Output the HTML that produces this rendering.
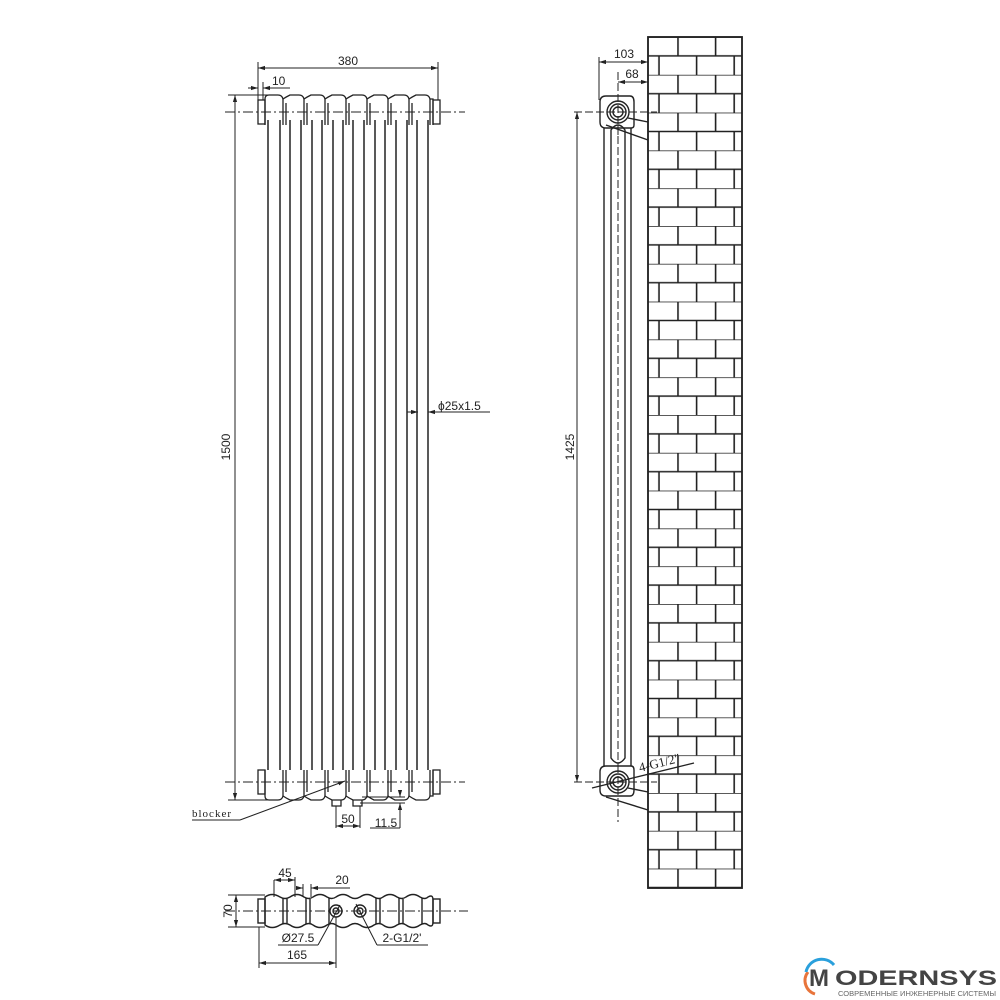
<!DOCTYPE html>
<html><head><meta charset="utf-8"><style>
html,body{margin:0;padding:0;background:#fff;}
svg{display:block;}
text{font-family:"Liberation Sans",sans-serif;fill:#222;}
</style></head><body>
<svg width="1000" height="1000" viewBox="0 0 1000 1000" xmlns="http://www.w3.org/2000/svg">
<defs>
<pattern id="br" x="648" y="37" width="37.6" height="37.8" patternUnits="userSpaceOnUse">
<line x1="0" y1="0" x2="37.6" y2="0" stroke="#222" stroke-width="1.6"/>
<line x1="0" y1="18.9" x2="37.6" y2="18.9" stroke="#222" stroke-width="1.6"/>
<line x1="30" y1="0" x2="30" y2="18.9" stroke="#222" stroke-width="1.6"/>
<line x1="11" y1="18.9" x2="11" y2="37.8" stroke="#222" stroke-width="1.6"/>
</pattern>
<marker id="a" viewBox="0 0 10 10" refX="10" refY="5" markerWidth="7" markerHeight="7" orient="auto-start-reverse"><path d="M0,2L10,5L0,8z" fill="#222"/></marker>
</defs>
<g stroke="#222" fill="none" stroke-width="1.3">
<rect x="648" y="37" width="94" height="851" fill="url(#br)"/>
<rect x="648" y="37" width="94" height="851" stroke-width="1.8"/>

<g stroke-width="1.5">
<line x1="268" y1="120" x2="268" y2="770"/><line x1="280" y1="120" x2="280" y2="770"/>
<line x1="290" y1="120" x2="290" y2="770"/><line x1="301" y1="120" x2="301" y2="770"/>
<line x1="312" y1="120" x2="312" y2="770"/><line x1="322" y1="120" x2="322" y2="770"/>
<line x1="333" y1="120" x2="333" y2="770"/><line x1="343" y1="120" x2="343" y2="770"/>
<line x1="353" y1="120" x2="353" y2="770"/><line x1="364" y1="120" x2="364" y2="770"/>
<line x1="375" y1="120" x2="375" y2="770"/><line x1="385" y1="120" x2="385" y2="770"/>
<line x1="396" y1="120" x2="396" y2="770"/><line x1="407" y1="120" x2="407" y2="770"/>
<line x1="417" y1="120" x2="417" y2="770"/><line x1="428" y1="120" x2="428" y2="770"/>
</g>
<path d="M265,125 L265,99 Q265,95 269,95 L278,95 Q282,95 283,99 Q286,97 290,95 L299,95 Q303,95 304,99 Q307,97 311,95 L320,95 Q324,95 325,99 Q328,97 332,95 L341,95 Q345,95 346,99 Q349,97 353,95 L362,95 Q366,95 367,99 Q370,97 374,95 L383,95 Q387,95 388,99 Q391,97 395,95 L404,95 Q408,95 409,99 Q412,97 416,95 L425,95 Q429,95 430,99 L433,99 L433,125"/>
<rect x="258" y="100" width="7" height="24"/><rect x="433" y="100" width="7" height="24"/>
<path d="M283,99 V125 M286,103 V125 M304,99 V125 M307,103 V125 M325,99 V125 M328,103 V125 M346,99 V125 M349,103 V125 M367,99 V125 M370,103 V125 M388,99 V125 M391,103 V125 M409,99 V125 M412,103 V125 M430,99 V125"/>
<path d="M265,770 L265,796 Q265,800 269,800 L278,800 Q282,800 283,796 Q286,798 290,800 L299,800 Q303,800 304,796 Q307,798 311,800 L320,800 Q324,800 325,796 Q328,798 332,800 L341,800 Q345,800 346,796 Q349,798 353,800 L362,800 Q366,800 367,796 Q370,798 374,800 L383,800 Q387,800 388,796 Q391,798 395,800 L404,800 Q408,800 409,796 Q412,798 416,800 L425,800 Q429,800 430,796 L433,796 L433,770"/>
<rect x="258" y="770" width="7" height="24"/><rect x="433" y="770" width="7" height="24"/>
<path d="M283,770 V796 M286,770 V792 M304,770 V796 M307,770 V792 M325,770 V796 M328,770 V792 M346,770 V796 M349,770 V792 M367,770 V796 M370,770 V792 M388,770 V796 M391,770 V792 M409,770 V796 M412,770 V792 M430,770 V796"/>
<path d="M332,800 V806 H341 V800 M353,800 V806 H362 V800"/>
<g stroke-dasharray="10,3,2,3" stroke-width="1"><line x1="225" y1="112" x2="465" y2="112"/><line x1="225" y1="782" x2="465" y2="782"/></g>
<g stroke-width="1">
<line x1="258" y1="62" x2="258" y2="100"/><line x1="438" y1="62" x2="438" y2="100"/>
<line x1="258" y1="68" x2="438" y2="68" marker-start="url(#a)" marker-end="url(#a)"/>
<line x1="263" y1="82" x2="263" y2="100"/>
<line x1="248" y1="88" x2="258" y2="88" marker-end="url(#a)"/><line x1="275" y1="88" x2="263" y2="88" marker-end="url(#a)"/><line x1="263" y1="88" x2="290" y2="88"/>
<line x1="228" y1="95" x2="268" y2="95"/><line x1="228" y1="800" x2="268" y2="800"/>
<line x1="235" y1="95" x2="235" y2="800" marker-start="url(#a)" marker-end="url(#a)"/>
<line x1="407" y1="412" x2="418" y2="412" marker-end="url(#a)"/><line x1="440" y1="412" x2="428" y2="412" marker-end="url(#a)"/><line x1="428" y1="412" x2="490" y2="412"/>
<line x1="192" y1="820" x2="240" y2="820"/><line x1="240" y1="820" x2="345" y2="781" marker-end="url(#a)"/>
<line x1="336" y1="806" x2="336" y2="828"/><line x1="360" y1="806" x2="360" y2="828"/>
<line x1="336" y1="826" x2="360" y2="826" marker-start="url(#a)" marker-end="url(#a)"/>
<line x1="360" y1="803" x2="405" y2="803"/><line x1="362" y1="797" x2="405" y2="797"/>
<line x1="400" y1="790" x2="400" y2="797" marker-end="url(#a)"/><line x1="400" y1="828" x2="400" y2="803" marker-end="url(#a)"/>
<line x1="370" y1="828" x2="400" y2="828"/>
</g>

<g stroke-width="1.4">
<path d="M265,897 Q272,892 280,897 Q285,900 290,897 Q297,892 304,897 Q309,900 313,897 Q320,892 327,897 Q332,900 336,897 Q343,892 350,897 Q355,900 360,897 Q367,892 374,897 Q379,900 383,897 Q390,892 397,897 Q402,900 406,897 Q413,892 420,897 Q425,900 428,897 Q433,894 433,900 L433,922 Q433,928 428,925 Q425,922 420,925 Q413,930 406,925 Q402,922 397,925 Q390,930 383,925 Q379,922 374,925 Q367,930 360,925 Q355,922 350,925 Q343,930 336,925 Q332,922 327,925 Q320,930 313,925 Q309,922 304,925 Q297,930 290,925 Q285,922 280,925 Q272,930 265,925 Z"/>
<rect x="258" y="899" width="7" height="24"/><rect x="433" y="899" width="7" height="24"/>
<path d="M283,898 V924 M287,899 V923 M306,898 V924 M310,899 V923 M329,898 V924 M376,898 V924 M380,899 V923 M399,898 V924 M403,899 V923 M422,898 V924"/>
<circle cx="336" cy="911" r="6"/><circle cx="336" cy="911" r="3"/>
<circle cx="360" cy="911" r="6"/><circle cx="360" cy="911" r="3"/>
</g>
<line x1="225" y1="911" x2="468" y2="911" stroke-dasharray="10,3,2,3" stroke-width="1"/>
<g stroke-width="1">
<line x1="228" y1="895" x2="265" y2="895"/><line x1="228" y1="927" x2="265" y2="927"/>
<line x1="236" y1="895" x2="236" y2="927" marker-start="url(#a)" marker-end="url(#a)"/>
<line x1="274" y1="880" x2="274" y2="897"/><line x1="295" y1="877" x2="295" y2="897"/>
<line x1="274" y1="880" x2="295" y2="880" marker-start="url(#a)" marker-end="url(#a)"/>
<line x1="303" y1="884" x2="303" y2="897"/><line x1="311" y1="884" x2="311" y2="897"/>
<line x1="296" y1="888" x2="303" y2="888" marker-end="url(#a)"/><line x1="318" y1="888" x2="311" y2="888" marker-end="url(#a)"/><line x1="311" y1="888" x2="350" y2="888"/>
<line x1="259" y1="927" x2="259" y2="968"/><line x1="336" y1="917" x2="336" y2="968"/>
<line x1="259" y1="963" x2="336" y2="963" marker-start="url(#a)" marker-end="url(#a)"/>
<line x1="278" y1="945" x2="318" y2="945"/><line x1="318" y1="945" x2="340" y2="905"/>
<line x1="377" y1="945" x2="428" y2="945"/><line x1="377" y1="945" x2="356" y2="904"/>
</g>

<g stroke-width="1.4">
<path d="M600,102 Q600,96 606,96 L630,96 Q634,96 634,102 L634,125 Q634,128 631,128 L606,128 Q600,128 600,122 Z"/>
<path d="M600,790 Q600,796 606,796 L630,796 Q634,796 634,790 L634,770 Q634,766 631,766 L606,766 Q600,766 600,772 Z"/>
<line x1="604" y1="128" x2="604" y2="766"/><line x1="631" y1="128" x2="631" y2="766"/>
<path d="M611,130 Q618,120 625,130 L625,758 Q618,768 611,758 Z"/>
<circle cx="618" cy="112" r="11"/><circle cx="618" cy="112" r="8"/><circle cx="618" cy="112" r="5"/>
<circle cx="618" cy="782" r="11"/><circle cx="618" cy="782" r="8"/><circle cx="618" cy="782" r="5"/>
<line x1="628" y1="118" x2="648" y2="122"/><line x1="606" y1="125" x2="648" y2="140"/>
<line x1="628" y1="788" x2="648" y2="792"/><line x1="606" y1="797" x2="648" y2="810"/>
</g>
<g stroke-width="1">
<line x1="618" y1="125" x2="618" y2="765" stroke-dasharray="8,3"/>
<line x1="618" y1="72" x2="618" y2="135" stroke-dasharray="8,3"/>
<line x1="618" y1="765" x2="618" y2="822" stroke-dasharray="8,3"/>
<line x1="574" y1="112" x2="657" y2="112" stroke-dasharray="8,3"/>
<line x1="574" y1="782" x2="657" y2="782" stroke-dasharray="8,3"/>
<line x1="599" y1="57" x2="599" y2="100"/>
<line x1="599" y1="62" x2="648" y2="62" marker-start="url(#a)" marker-end="url(#a)"/>
<line x1="618" y1="82" x2="648" y2="82" marker-start="url(#a)" marker-end="url(#a)"/>
<line x1="577" y1="112" x2="577" y2="782" marker-start="url(#a)" marker-end="url(#a)"/>
<line x1="592" y1="788" x2="694" y2="763" stroke-width="1.3"/>
</g>
</g>
<text x="348" y="65" font-size="12" text-anchor="middle">380</text>
<text x="272" y="85" font-size="12">10</text>
<text x="438" y="410" font-size="12">ϕ25x1.5</text>
<text x="230" y="447" font-size="12" text-anchor="middle" transform="rotate(-90 230 447)">1500</text>
<text x="192" y="817" font-size="11" style="font-family:'Liberation Serif',serif;letter-spacing:1px">blocker</text>
<text x="348" y="823" font-size="12" text-anchor="middle">50</text>
<text x="386" y="827" font-size="12" text-anchor="middle">11.5</text>
<text x="285" y="877" font-size="12" text-anchor="middle">45</text>
<text x="342" y="884" font-size="12" text-anchor="middle">20</text>
<text x="232" y="911" font-size="12" text-anchor="middle" transform="rotate(-90 232 911)">70</text>
<text x="298" y="942" font-size="12" text-anchor="middle">Ø27.5</text>
<text x="402" y="942" font-size="12" text-anchor="middle">2-G1/2'</text>
<text x="297" y="959" font-size="12" text-anchor="middle">165</text>
<text x="624" y="58" font-size="12" text-anchor="middle">103</text>
<text x="632" y="78" font-size="12" text-anchor="middle">68</text>
<text x="574" y="447" font-size="12" text-anchor="middle" transform="rotate(-90 574 447)">1425</text>
<text x="640" y="772" font-size="13" transform="rotate(-14 640 772)" style="font-family:'Liberation Serif',serif">4-G1/2"</text>
<path d="M815,994 A14,14 0 0 1 808,972" fill="none" stroke="#e8743b" stroke-width="3"/>
<path d="M806,972 A16,16 0 0 1 834,965" fill="none" stroke="#2aa0dc" stroke-width="3"/>
<text x="809" y="986" font-size="24" font-weight="bold" style="fill:#444">M</text>
<text x="835" y="985" font-size="21" font-weight="bold" textLength="162" lengthAdjust="spacingAndGlyphs" style="fill:#444">ODERNSYS</text>
<text x="838" y="996" font-size="7" textLength="158" lengthAdjust="spacingAndGlyphs" style="fill:#666">СОВРЕМЕННЫЕ ИНЖЕНЕРНЫЕ СИСТЕМЫ</text>
</svg>
</body></html>
